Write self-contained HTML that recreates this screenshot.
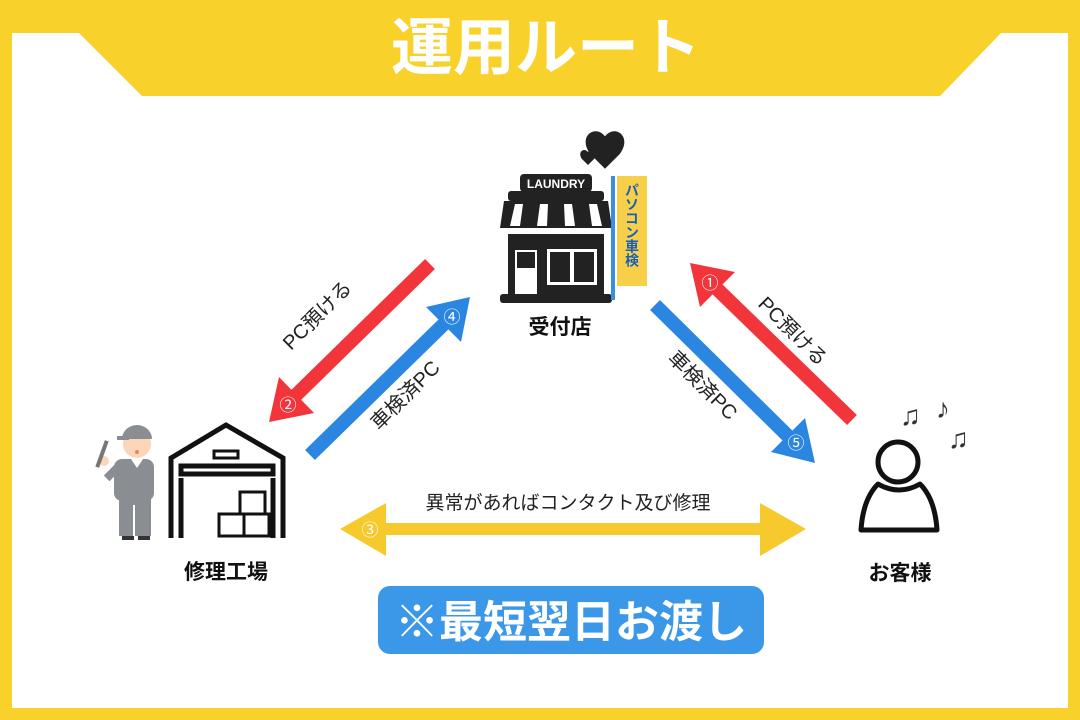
<!DOCTYPE html>
<html><head><meta charset="utf-8"><style>
html,body{margin:0;padding:0;background:#fff}
svg{display:block}
text{font-family:"Liberation Sans","Noto Sans CJK JP",sans-serif}
</style></head><body>
<svg width="1080" height="720" viewBox="0 0 1080 720" xmlns="http://www.w3.org/2000/svg">
<rect x="0" y="0" width="1080" height="720" fill="#f8d12b"/>
<rect x="12" y="33" width="1056" height="675" fill="#fff"/>
<polygon points="78,32 1002,32 940,96 142,96" fill="#f8d12b"/>
<text x="546" y="69" text-anchor="middle" font-size="62" font-weight="bold" fill="#fff">運用ルート</text>

<line x1="430" y1="264" x2="293" y2="398" stroke="#f2353a" stroke-width="14"/>
<polygon points="269,422 279,377 314,413" fill="#f2353a"/>
<text x="288" y="411" text-anchor="middle" font-size="17" fill="#fff">②</text>
<line x1="310" y1="455" x2="448" y2="320" stroke="#2a86e0" stroke-width="14"/>
<polygon points="470,297 426,307 461,342" fill="#2a86e0"/>
<text x="452" y="323" text-anchor="middle" font-size="17" fill="#fff">④</text>
<line x1="655" y1="305" x2="792" y2="440" stroke="#2a86e0" stroke-width="14"/>
<polygon points="815,463 771,452 805,418" fill="#2a86e0"/>
<text x="796" y="449" text-anchor="middle" font-size="17" fill="#fff">⑤</text>
<line x1="852" y1="420" x2="713" y2="285" stroke="#f2353a" stroke-width="14"/>
<polygon points="690,263 735,272 700,307" fill="#f2353a"/>
<text x="710" y="289" text-anchor="middle" font-size="17" fill="#fff">①</text>

<text transform="translate(322,320) rotate(-45)" text-anchor="middle" font-size="20" fill="#222">PC預ける</text>
<text transform="translate(410,400) rotate(-45)" text-anchor="middle" font-size="20" fill="#222">車検済PC</text>
<text transform="translate(698,390) rotate(45)" text-anchor="middle" font-size="20" fill="#222">車検済PC</text>
<text transform="translate(788,336) rotate(45)" text-anchor="middle" font-size="20" fill="#222">PC預ける</text>

<rect x="380" y="523" width="385" height="12" fill="#f6c92c"/>
<polygon points="340,529 386,503 386,556" fill="#f6c92c"/>
<polygon points="806,529 760,503 760,556" fill="#f6c92c"/>
<text x="370" y="536" text-anchor="middle" font-size="17" fill="#fff">③</text>
<text x="568" y="509" text-anchor="middle" font-size="19" fill="#222">異常があればコンタクト及び修理</text>

<!-- store -->
<g fill="#222">
<path d="M605,138 c-8,-10 -22,0 -12,14 l12,12 l12,-12 c10,-14 -4,-24 -12,-14z" transform="translate(605,145) scale(1.25) translate(-605,-145)"/>
<path d="M588,152 c-4,-5 -11,0 -6,7 l6,6 l6,-6 c5,-7 -2,-12 -6,-7z"/>
<rect x="520" y="174" width="72" height="18" rx="4"/>
<rect x="508" y="191" width="96" height="10" rx="3"/>
<polygon points="504,201 608,201 612,228 500,228"/>
<rect x="508" y="234" width="96" height="62"/>
<rect x="500" y="294" width="112" height="9" rx="3"/>
</g>
<text x="556" y="188" text-anchor="middle" font-size="12" font-weight="bold" fill="#fff">LAUNDRY</text>
<g fill="#fff">
<polygon points="515,204 523,204 520,226 510,226"/>
<polygon points="540,204 548,204 547,226 537,226"/>
<polygon points="564,204 572,204 575,226 565,226"/>
<polygon points="589,204 597,204 602,226 592,226"/>
<rect x="515" y="250" width="22" height="44"/>
<rect x="547" y="249" width="50" height="36"/>
</g>
<rect x="517" y="252" width="18" height="16" fill="#222"/>
<rect x="550" y="252" width="44" height="30" fill="#222"/>
<rect x="570" y="252" width="4" height="30" fill="#fff"/>
<rect x="611" y="176" width="4" height="124" fill="#3b8fe0"/>
<rect x="617" y="176" width="30" height="110" fill="#f7cf48"/>
<text font-size="14" font-weight="bold" fill="#1a5fb8" writing-mode="tb" x="632" y="183">パソコン車検</text>
<text x="560" y="334" text-anchor="middle" font-size="21" font-weight="bold" fill="#111">受付店</text>

<!-- warehouse -->
<g fill="none" stroke="#111" stroke-width="5">
<polyline points="171,538 171,458 226,425 283,458 283,538"/>
<rect x="181" y="466" width="92" height="8"/>
<line x1="181" y1="478" x2="181" y2="538"/>
<line x1="273" y1="478" x2="273" y2="538"/>
<rect x="214" y="451" width="24" height="7" stroke-width="3"/>
<rect x="240" y="492" width="25" height="22" stroke-width="3"/>
<rect x="219" y="514" width="25" height="22" stroke-width="3"/>
<rect x="244" y="514" width="25" height="22" stroke-width="3"/>
</g>
<!-- worker -->
<g>
<rect x="114" y="459" width="40" height="42" rx="8" fill="#8a8d92"/>
<rect x="119" y="498" width="32" height="38" fill="#8a8d92"/>
<rect x="133" y="505" width="2" height="31" fill="#fff"/>
<polygon points="131,459 143,459 137,468" fill="#fff"/>
<circle cx="137" cy="444" r="14" fill="#fbd6b8"/>
<path d="M122,439 a15,14 0 0 1 30,0 z" fill="#8a8d92"/>
<rect x="117" y="436" width="12" height="4" fill="#8a8d92"/>
<circle cx="137" cy="452" r="2" fill="#e85"/>
<rect x="104" y="468" width="18" height="8" fill="#8a8d92" transform="rotate(-45 113 472)"/>
<circle cx="104" cy="461" r="5" fill="#fbd6b8"/>
<rect x="100" y="440" width="4" height="28" fill="#777" transform="rotate(20 102 454)"/>
<rect x="122" y="536" width="12" height="4" fill="#333"/>
<rect x="138" y="536" width="12" height="4" fill="#333"/>
</g>
<text x="226" y="579" text-anchor="middle" font-size="21" font-weight="bold" fill="#111">修理工場</text>

<!-- customer -->
<g fill="none" stroke="#111" stroke-width="5">
<circle cx="898" cy="462" r="20"/>
<path d="M878,484 q-15,15 -17,46 l76,0 q-2,-31 -17,-46 q-21,12 -42,0z" stroke-linejoin="round"/>
</g>
<text x="900" y="425" font-size="28" fill="#333">♫</text>
<text x="936" y="418" font-size="28" fill="#333">♪</text>
<text x="948" y="448" font-size="28" fill="#333">♫</text>
<text x="900" y="580" text-anchor="middle" font-size="21" font-weight="bold" fill="#111">お客様</text>

<rect x="378" y="586" width="386" height="68" rx="12" fill="#3b97e8"/>
<text x="571" y="637" text-anchor="middle" font-size="44" font-weight="bold" fill="#fff">※最短翌日お渡し</text>
</svg>
</body></html>
